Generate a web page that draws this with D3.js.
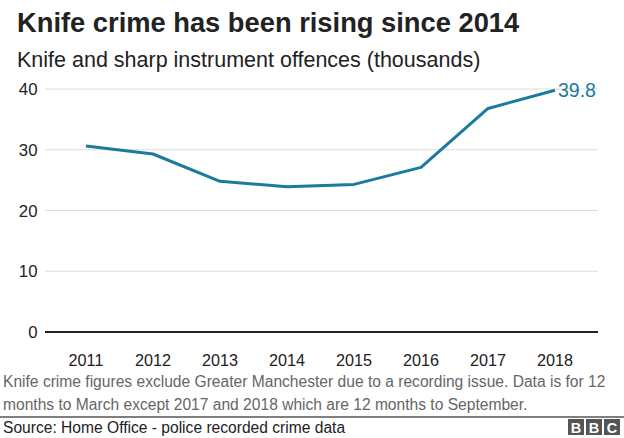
<!DOCTYPE html>
<html>
<head>
<meta charset="utf-8">
<script src="https://cdn.jsdelivr.net/npm/d3@7"></script>
<style>
  body { margin: 0; background: #fff; }
  svg { display: block; font-family: "Liberation Sans", Arial, Helvetica, sans-serif; }
</style>
</head>
<body>
<svg id="chart" width="624" height="438"></svg>
<script>
// data
const years = ["2011", "2012", "2013", "2014", "2015", "2016", "2017", "2018"];
const offences = [30.6, 29.3, 24.8, 23.9, 24.3, 27.1, 36.8, 39.8];
const yTicks = [0, 10, 20, 30, 40];

const svg = d3.select("#chart");
const lineColour = "#1a7b9c";

// title + subtitle
svg.append("text")
  .attr("x", 17).attr("y", 32)
  .attr("font-size", 27.3).attr("font-weight", "bold").attr("fill", "#222")
  .text("Knife crime has been rising since 2014");

svg.append("text")
  .attr("x", 17).attr("y", 67)
  .attr("font-size", 21.5).attr("fill", "#222")
  .text("Knife and sharp instrument offences (thousands)");

// scales
let x = d3.scalePoint()
  .domain(years)
  .range([86, 555]);

let y = d3.scaleLinear()
  .domain([0, 40])
  .range([332, 89]);

// gridlines
yTicks.filter(t => t > 0).forEach(t =>
  svg.append("line")
    .attr("x1", 45).attr("x2", 598)
    .attr("y1", y(t)).attr("y2", y(t))
    .attr("stroke", "#dcdcdc").attr("stroke-width", 1)
);

// y labels
yTicks.forEach(t =>
  svg.append("text")
    .attr("x", 37.5)
    .attr("y", y(t) + 6)
    .attr("text-anchor", "end")
    .attr("font-size", 16.8).attr("fill", "#222")
    .text(t.toString())
);

// zero baseline
svg.append("line")
  .attr("x1", 45).attr("x2", 598)
  .attr("y1", y(0)).attr("y2", y(0))
  .attr("stroke", "#222").attr("stroke-width", 2);

// x labels
years.forEach(yr =>
  svg.append("text")
    .attr("x", x(yr)).attr("y", 366)
    .attr("text-anchor", "middle")
    .attr("font-size", 16.2).attr("fill", "#222")
    .text(yr)
);

// the line
let line = d3.line()
  .x((d, i) => x(years[i]))
  .y(d => y(d));

svg.append("path")
  .datum(offences)
  .attr("d", line)
  .attr("fill", "none")
  .attr("stroke", lineColour)
  .attr("stroke-width", 3)
  .attr("stroke-linejoin", "round");

// end label
let last = offences.length - 1;
svg.append("text")
  .attr("x", x(years[last]) + 3)
  .attr("y", y(offences[last]) + 6.5)
  .attr("font-size", 19.5).attr("fill", lineColour)
  .text(offences[last].toString());

// footnote
const notes = [
  "Knife crime figures exclude Greater Manchester due to a recording issue. Data is for 12",
  "months to March except 2017 and 2018 which are 12 months to September."
];
notes.forEach((n, i) =>
  svg.append("text")
    .attr("x", 3).attr("y", 387 + i * 23)
    .attr("font-size", 15.6).attr("fill", "#666")
    .text(n)
);

// separator + source
svg.append("line")
  .attr("x1", 0).attr("x2", 624)
  .attr("y1", 417).attr("y2", 417)
  .attr("stroke", "#555").attr("stroke-width", 1.5);

svg.append("text")
  .attr("x", 3).attr("y", 433)
  .attr("font-size", 15.6).attr("fill", "#222")
  .text("Source: Home Office - police recorded crime data");

// BBC blocks
["B", "B", "C"].forEach((ch, i) => {
  let bx = 568 + i * 18;
  svg.append("rect")
    .attr("x", bx).attr("y", 419)
    .attr("width", 16).attr("height", 16)
    .attr("fill", "#555");
  svg.append("text")
    .attr("x", bx + 8).attr("y", 432.5)
    .attr("text-anchor", "middle")
    .attr("font-size", 14.5).attr("font-weight", "bold").attr("fill", "#fff")
    .text(ch);
});
</script>
</body>
</html>
